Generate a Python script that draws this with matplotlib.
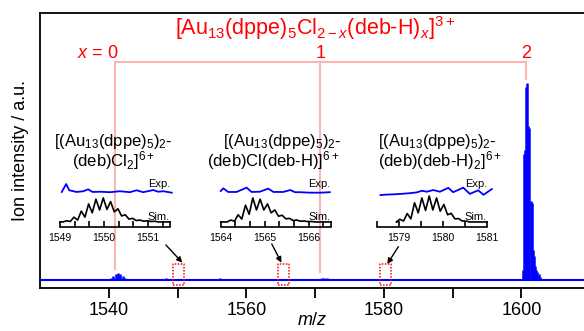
import matplotlib
matplotlib.use("Agg")
import matplotlib.pyplot as plt
from matplotlib.ticker import FixedLocator, NullFormatter

plt.rcParams['font.family'] = ['Liberation Sans', 'DejaVu Sans']
plt.rcParams['mathtext.fontset'] = 'custom'
plt.rcParams['mathtext.rm'] = 'Liberation Sans'
plt.rcParams['mathtext.it'] = 'Liberation Sans:italic'
plt.rcParams['mathtext.bf'] = 'Liberation Sans:bold'

BLUE = '#0000ff'
PINK = '#ffb4b4'
RED = '#ff0000'

# ---------------------------
# DATA
# ---------------------------
# main spectrum, drawn as isotope sticks (m/z, relative intensity)
main_mz = [1540.33, 1540.67, 1541.0, 1541.33, 1541.67, 1542.0, 1542.33, 1542.67,
           1548.33, 1548.67, 1555.9, 1556.2, 1556.5, 1571.0, 1571.33, 1571.67, 1572.0,
           1600.17, 1600.33, 1600.5, 1600.67, 1600.83, 1601.0, 1601.17, 1601.33,
           1601.5, 1601.67, 1601.83, 1602.0, 1602.17, 1602.33, 1602.5, 1602.67, 1606.1]
main_int = [0.008, 0.02, 0.03, 0.036, 0.032, 0.022, 0.012, 0.006,
            0.008, 0.006, 0.006, 0.008, 0.006, 0.008, 0.01, 0.008, 0.005,
            0.05, 0.64, 0.66, 0.98, 1.0, 0.78, 0.77, 0.40,
            0.39, 0.15, 0.12, 0.07, 0.05, 0.04, 0.03, 0.015, 0.006]

# x = 0, 1, 2 assignments
assign_mz = [1540.9, 1570.75, 1600.7]
assign_lbl = [r'$x$ = 0', '1', '2']
assign_bottom = [0.056, 0.04, 1.02]

# zoomed-in regions marked by dotted boxes
box_lo = [1549.3, 1564.6, 1579.4]
box_hi = [1550.9, 1566.2, 1581.0]

# insets: axis ranges
inset_xlim = [(1549.0, 1551.5), (1564.0, 1566.5), (1578.5, 1581.0)]
inset_labels = [[1549, 1550, 1551], [1564, 1565, 1566], [1579, 1580, 1581]]
inset_title1 = [r'[(Au$_{13}$(dppe)$_5$)$_2$-'] * 3
inset_title2 = [r'(deb)Cl$_2$]$^{6+}$', r'(deb)Cl(deb-H)]$^{6+}$',
                r'(deb)(deb-H)$_2$]$^{6+}$']

# simulated patterns (peak tops and valleys between them)
sim1_mz = [1549.15 + k / 6 for k in range(13)]
sim1_peak = [0.05, 0.2, 0.45, 0.75, 0.95, 1.0, 0.85, 0.55, 0.3, 0.15, 0.08, 0.05, 0.03]
sim1_valley = [0.02, 0.08, 0.2, 0.38, 0.5, 0.52, 0.42, 0.25, 0.12, 0.06, 0.03, 0.02]

sim2_mz = [1564.23 + k / 6 for k in range(12)]
sim2_peak = [0.08, 0.3, 0.7, 1.0, 0.95, 0.75, 0.5, 0.28, 0.15, 0.08, 0.04, 0.02]
sim2_valley = [0.03, 0.12, 0.32, 0.5, 0.5, 0.38, 0.24, 0.13, 0.06, 0.03, 0.015]

sim3_mz = [1579.02 + k / 6 for k in range(10)]
sim3_peak = [0.11, 0.35, 0.8, 1.0, 1.08, 1.0, 0.73, 0.36, 0.14, 0.04]
sim3_valley = [0.04, 0.13, 0.38, 0.48, 0.5, 0.45, 0.3, 0.13, 0.04]

sim_start = [1549.0, 1564.0, 1578.95]

# experimental traces
exp1_mz = [1549.04, 1549.14, 1549.21, 1549.38, 1549.53, 1549.64, 1549.74, 1549.91,
           1550.14, 1550.36, 1550.59, 1550.74, 1550.89, 1551.12, 1551.23, 1551.35, 1551.54]
exp1_int = [0.0, 0.33, 0.07, 0.0, 0.03, 0.11, 0.0, 0.01,
            -0.01, 0.03, -0.01, 0.07, -0.01, 0.08, 0.01, 0.03, -0.03]

exp2_mz = [1564.0, 1564.06, 1564.17, 1564.36, 1564.59, 1564.70, 1564.89, 1565.08,
           1565.20, 1565.42, 1565.58, 1565.69, 1565.80, 1566.03, 1566.26, 1566.48]
exp2_int = [0.04, 0.15, 0.0, 0.0, 0.18, 0.0, 0.01, 0.14,
            0.0, 0.0, 0.08, -0.01, -0.01, -0.03, -0.03, -0.01]

exp3_mz = [1578.58, 1578.72, 1578.87, 1579.05, 1579.25, 1579.40, 1579.52, 1579.63,
           1579.78, 1579.93, 1580.12, 1580.23, 1580.46, 1580.61, 1580.80, 1580.92, 1581.11]
exp3_int = [-0.13, -0.11, -0.1, -0.08, -0.05, -0.02, 0.05, 0.01,
            0.08, 0.01, 0.17, -0.01, 0.18, -0.08, 0.07, -0.12, 0.12]

sims = [(sim1_mz, sim1_peak, sim1_valley), (sim2_mz, sim2_peak, sim2_valley),
        (sim3_mz, sim3_peak, sim3_valley)]
exps = [(exp1_mz, exp1_int), (exp2_mz, exp2_int), (exp3_mz, exp3_int)]


def zigzag(mz, peak, valley, x0, x1):
    xs, ys = [x0], [0.0]
    for i, (m, h) in enumerate(zip(mz, peak)):
        if i == 0:
            xs.append(m - 1 / 12)
            ys.append(0.0)
        else:
            xs.append((mz[i - 1] + m) / 2)
            ys.append(valley[i - 1])
        xs.append(m)
        ys.append(h)
    xs += [mz[-1] + 1 / 12, x1]
    ys += [0.0, 0.0]
    return xs, ys


# ---------------------------
# FIGURE
# ---------------------------
W, H = 584, 331
fig = plt.figure(figsize=(W / 100, H / 100), dpi=100)
ax = fig.add_axes([40 / W, (H - 288) / H, 1 - 40 / W, (288 - 13) / H])

ax.axhline(0, color=BLUE, lw=1.5, zorder=3)
ax.vlines(main_mz, 0, main_int, color=BLUE, lw=1.8, zorder=3)

ax.set_xlim(1530, 1609.1)
ax.set_ylim(-0.0406, 1.355)

for s in ['left', 'bottom', 'top']:
    ax.spines[s].set_linewidth(1.3)
ax.spines['right'].set_visible(False)
ax.set_yticks([])
ax.xaxis.set_major_locator(FixedLocator([1540, 1560, 1580, 1600]))
ax.xaxis.set_minor_locator(FixedLocator([1550, 1570, 1590]))
ax.tick_params(axis='x', which='both', direction='out', length=7, width=1.3,
               labelsize=13, pad=3)
ax.set_xlabel(r'$m/z$', fontsize=13, labelpad=-5)
ax.set_ylabel('Ion intensity / a.u.', fontsize=13, labelpad=8)

# assignment bracket
ytop = 1.107
ax.plot([assign_mz[0], assign_mz[-1]], [ytop, ytop], color=PINK, lw=1.5, zorder=1)
for m, lbl, yb in zip(assign_mz, assign_lbl, assign_bottom):
    ax.plot([m, m], [yb, ytop], color=PINK, lw=1.5, zorder=1)
    if lbl.startswith('$'):
        ax.text(m + 0.55, 1.15, lbl, color=RED, fontsize=13, ha='right', va='center')
    else:
        ax.text(m, 1.15, lbl, color=RED, fontsize=13, ha='center', va='center')
ax.text(1570, 1.28, r'[Au$_{13}$(dppe)$_5$Cl$_{2-x}$(deb-H)$_x$]$^{3+}$',
        color=RED, fontsize=15.5, ha='center', va='center')

# dotted boxes + arrows
arrow_tail = [(1548.3, 0.178), (1563.7, 0.183), (1582.1, 0.169)]
arrow_tip = [(1550.7, 0.088), (1565.1, 0.088), (1580.5, 0.081)]
for lo, hi, tl, tp in zip(box_lo, box_hi, arrow_tail, arrow_tip):
    ax.plot([lo, hi, hi, lo, lo], [-0.025, -0.025, 0.081, 0.081, -0.025],
            color=RED, lw=1.1, ls=(0, (1, 1)), zorder=4)
    ax.annotate('', xy=tp, xytext=tl,
                arrowprops=dict(arrowstyle='-|>', color='k', lw=1.0,
                                mutation_scale=8, shrinkA=0, shrinkB=0))

# ---------------------------
# INSETS
# ---------------------------
inset_left = [60, 220.7, 377]
title_x1 = [1550.22, 1565.40, 1578.52]
title_x2 = [1550.22, 1565.19, 1578.52]
title_ha = ['center', 'center', 'left']
SIM_OFF = 0.21
EXP_OFF = 1.46
for i in range(3):
    ins = fig.add_axes([inset_left[i] / W, (H - 227) / H, 110 / W, 47 / H])
    ins.patch.set_alpha(0)
    for s in ['left', 'right', 'top']:
        ins.spines[s].set_visible(False)
    ins.spines['bottom'].set_linewidth(1.2)
    ins.set_xlim(*inset_xlim[i])
    ins.set_ylim(0, 47 / 24)
    ins.set_yticks([])
    lo, hi = inset_xlim[i]
    ins.xaxis.set_major_locator(FixedLocator(inset_labels[i]))
    if i < 2:
        minors = [lo + k / 3 for k in range(8)] + [hi]
    else:
        minors = [lo + k * 0.5 for k in range(6)]
    ins.xaxis.set_minor_locator(FixedLocator(minors))
    ins.xaxis.set_minor_formatter(NullFormatter())
    ins.tick_params(axis='x', which='both', direction='in', length=4.5, width=1.2,
                    labelsize=7.5, pad=4)

    mz, pk, vl = sims[i]
    xs, ys = zigzag(mz, pk, vl, sim_start[i], hi)
    ins.plot(xs, [SIM_OFF + y for y in ys], color='k', lw=1.2, clip_on=False,
             solid_joinstyle='round')
    em, ei = exps[i]
    ins.plot(em, [EXP_OFF + y for y in ei], color=BLUE, lw=1.3, clip_on=False,
             solid_joinstyle='round')

    ins.text(hi, 1.78, 'Exp.', fontsize=8, ha='right', va='center')
    ins.text(hi, 0.4, 'Sim.', fontsize=8, ha='right', va='center')
    ins.text(title_x1[i], 3.58, inset_title1[i], fontsize=12, ha=title_ha[i],
             va='center')
    ins.text(title_x2[i], 2.75, inset_title2[i], fontsize=12, ha=title_ha[i],
             va='center')

fig.savefig('out.png', dpi=100)
